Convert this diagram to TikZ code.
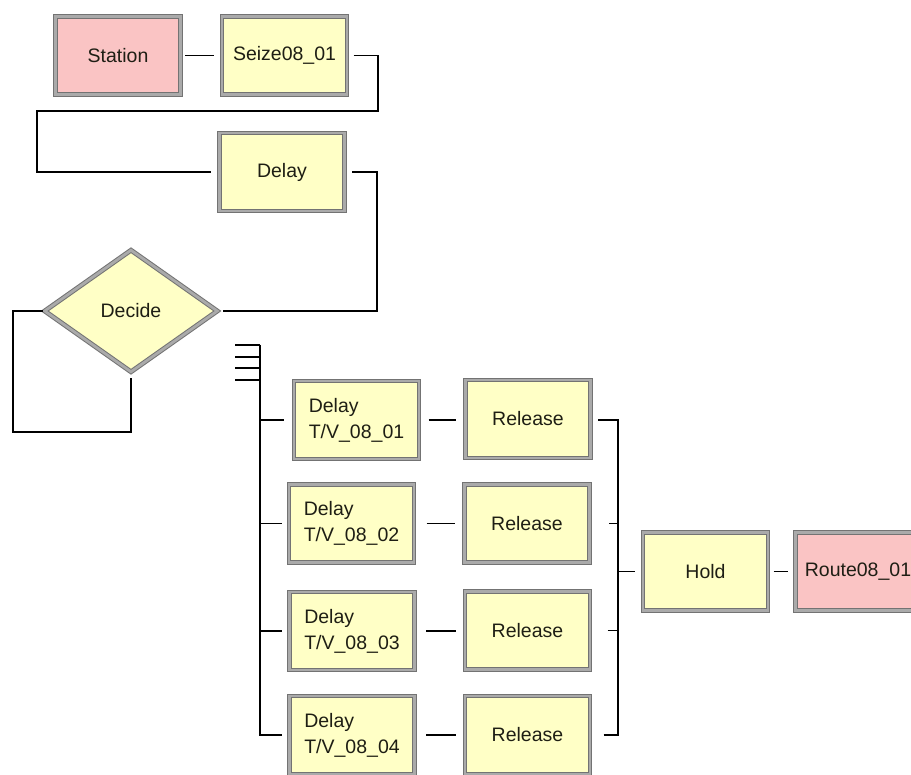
\documentclass[tikz,border=0pt]{standalone}
\usepackage{fontspec}
\setmainfont{Liberation Sans}
\usetikzlibrary{shapes.geometric}
\definecolor{boxyellow}{RGB}{255,255,198}
\definecolor{boxpink}{RGB}{250,196,196}
\definecolor{bordark}{RGB}{115,115,115}
\definecolor{borlight}{RGB}{170,170,170}
\definecolor{txt}{RGB}{30,30,20}
\tikzset{
  base/.style={draw=bordark, line width=1pt, double=borlight, double distance=2.8pt,
    inner sep=0pt, text=txt, font=\fontsize{19.5}{26}\selectfont},
  ybox/.style={base, rectangle, fill=boxyellow, minimum width=125pt, minimum height=78pt},
  pbox/.style={base, rectangle, fill=boxpink, minimum width=125pt, minimum height=78pt},
  dbox/.style={ybox, align=left},
  dec/.style={base, diamond, fill=boxyellow, minimum width=173pt, minimum height=122pt},
  conn/.style={line width=1.3pt, black},
}
\begin{document}
\begin{tikzpicture}[x=1pt,y=-1pt]
\clip (0,0) rectangle (911,775);
\fill[white] (0,0) rectangle (911,775);

% nodes
\node[pbox] (station) at (118,55.5) {Station};
\node[ybox] (seize) at (284.5,55.5) {Seize08\_01};
\node[ybox] (delay) at (282,172) {Delay};
\node[dec] (decide) at (131,311) {Decide};

\node[dbox] (dtv1) at (356.5,420) {Delay\\T/V\_08\_01};
\node[dbox] (dtv2) at (351.5,523.5) {Delay\\T/V\_08\_02};
\node[dbox] (dtv3) at (352,631) {Delay\\T/V\_08\_03};
\node[dbox] (dtv4) at (352,735) {Delay\\T/V\_08\_04};

\node[ybox] (rel1) at (528,419) {Release};
\node[ybox] (rel2) at (527,523.5) {Release};
\node[ybox] (rel3) at (527.5,630.5) {Release};
\node[ybox] (rel4) at (527.5,735) {Release};

\node[ybox] (hold) at (705.5,571.5) {Hold};
\node[pbox] (route) at (858,571.5) {Route08\_01};

% connectors top
\coordinate (sz) at (378,111);
\coordinate (lp) at (13,432);
\draw[conn] ([xshift=4pt]station.east) -- ([xshift=-8pt]seize.west);
\draw[conn] ([xshift=6pt]seize.east) -| (sz) -- (37,111) -- (37,172) -- ([xshift=-8pt]delay.west);
\draw[conn] ([xshift=7pt]delay.east) -- (377,172) -- (377,311) -- ([xshift=5pt]decide.east);
\draw[conn] ([xshift=-1pt]decide.west) -- (decide.west -| lp) -- (lp) -| ([yshift=-6pt]decide.south);

% decide outputs bus
\coordinate (bus) at (260,345);
\coordinate (t1) at (235,345);
\coordinate (t2) at (235,357);
\coordinate (t3) at (235,368);
\coordinate (t4) at (235,380);
\foreach \t in {t1,t2,t3,t4} \draw[conn] (\t) -- (\t -| bus);
\draw[line width=2.4pt] (bus) -- (260,419);
\draw[conn] (bus) -- (260,735.6);
\draw[conn] (dtv1.west -| bus) -- ([xshift=-10pt]dtv1.west);
\draw[conn] (dtv2.west -| bus) -- ([xshift=-7pt]dtv2.west);
\draw[conn] (dtv3.west -| bus) -- ([xshift=-7pt]dtv3.west);
\draw[conn] (dtv4.west -| bus) -- ([xshift=-7pt]dtv4.west);

% delay to release
\draw[conn] ([xshift=9pt]dtv1.east) -- ([xshift=-9pt]dtv1.east -| rel1.west);
\draw[conn] ([xshift=12pt]dtv2.east) -- ([xshift=-9pt]dtv2.east -| rel2.west);
\draw[conn] ([xshift=11pt]dtv3.east) -- ([xshift=-9pt]dtv3.east -| rel3.west);
\draw[conn] ([xshift=11pt]dtv4.east) -- ([xshift=-9pt]dtv4.east -| rel4.west);

% release to hold
\coordinate (rbus) at (618,420);
\draw[conn] ([xshift=7pt]rel1.east |- rbus) -- (rbus) -- (618,735.6);
\draw[conn] ([xshift=19pt]rel2.east) -- (rel2.east -| rbus);
\draw[conn] ([xshift=17pt]rel3.east) -- (rel3.east -| rbus);
\draw[conn] ([xshift=13pt]rel4.east) -- (rel4.east -| rbus);
\draw[conn] (hold.west -| rbus) -- ([xshift=-8pt]hold.west);
\draw[conn] ([xshift=5pt]hold.east) -- ([xshift=-7pt]route.west);
\end{tikzpicture}
\end{document}
